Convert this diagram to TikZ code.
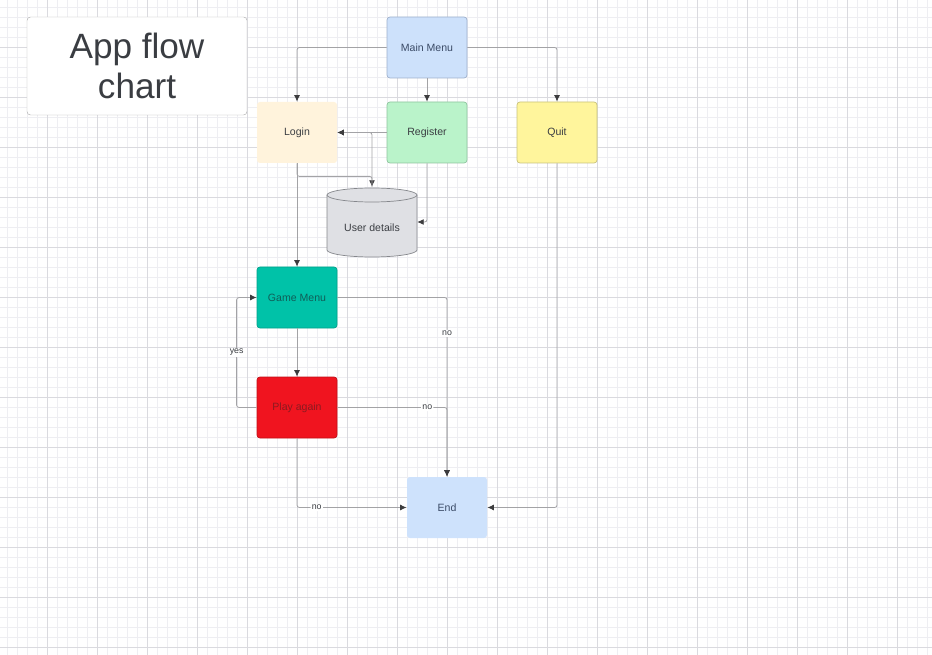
\documentclass[tikz,border=0pt]{standalone}
\usepackage{fontspec}
\setmainfont{Liberation Sans}
\usepackage{tikz}
\usetikzlibrary{arrows.meta}
\definecolor{gridminor}{HTML}{EEEEF2}
\definecolor{gridmajor}{HTML}{DADADF}
\definecolor{linegray}{HTML}{A3A3A6}
\definecolor{tipgray}{HTML}{3C3C3E}
\definecolor{textgray}{HTML}{3A3D42}
\definecolor{dbfill}{HTML}{DFE0E4}
\definecolor{dbline}{HTML}{85878C}
\definecolor{menufill}{HTML}{CDE1FB}
\definecolor{menuline}{HTML}{9DB0CC}
\definecolor{menutext}{HTML}{3A4A66}
\definecolor{loginfill}{HTML}{FFF3DC}
\definecolor{regfill}{HTML}{BAF3CA}
\definecolor{regline}{HTML}{8EC49D}
\definecolor{quitfill}{HTML}{FFF59C}
\definecolor{quitline}{HTML}{C9C27A}
\definecolor{gamefill}{HTML}{00C2A8}
\definecolor{gameline}{HTML}{00A08A}
\definecolor{gametext}{HTML}{105E58}
\definecolor{playfill}{HTML}{F0141F}
\definecolor{playline}{HTML}{C01018}
\definecolor{playtext}{HTML}{8A1A20}
\definecolor{endfill}{HTML}{CEE2FC}

\begin{document}
\begin{tikzpicture}[x=0.03cm,y=-0.03cm,
  box/.style={rectangle,rounded corners=2.5pt,minimum width=2.4cm,minimum height=1.83cm,inner sep=0pt,line width=0.6pt,text=textgray,font=\fontsize{9}{11}\selectfont},
  flow/.style={draw=linegray,line width=0.7pt,rounded corners=2pt,-{Latex[length=5.5pt,width=5pt,color=tipgray]}},
  lbl/.style={fill=white,inner sep=1pt,text=textgray,font=\fontsize{7.5}{9}\selectfont}]
  \useasboundingbox (0,0) rectangle (932,655);
  \foreach \x in {7.5,17.5,...,927.5}
    \draw[gridminor,line width=0.45pt] (\x,0) -- (\x,655);
  \foreach \y in {7.5,17.5,...,647.5}
    \draw[gridminor,line width=0.45pt] (0,\y) -- (932,\y);
  \foreach \x in {47.5,97.5,...,897.5}
    \draw[gridmajor,line width=0.65pt] (\x,0) -- (\x,655);
  \foreach \y in {47.5,97.5,...,647.5}
    \draw[gridmajor,line width=0.65pt] (0,\y) -- (932,\y);

  \node[draw=black!30,fill=white,rounded corners=3pt,minimum width=6.6cm,minimum height=2.94cm,align=center,text=textgray,font=\fontsize{30}{34}\selectfont] (title) at (137,66) {App flow\\chart};

  \node[box,fill=menufill,draw=menuline,text=menutext] (mainmenu) at (427,47.5) {Main Menu};
  \node[box,fill=loginfill] (login) at (297,132.5) {Login};
  \node[box,fill=regfill,draw=regline] (register) at (427,132.5) {Register};
  \node[box,fill=quitfill,draw=quitline] (quit) at (557,132.5) {Quit};
  \node[box,fill=gamefill,draw=gameline,text=gametext] (gamemenu) at (297,297.5) {Game Menu};
  \node[box,fill=playfill,draw=playline,text=playtext] (playagain) at (297,407.5) {Play again};
  \node[box,fill=endfill,text=menutext] (end) at (447,507.5) {End};

  \fill[dbfill] (327,195) rectangle (417,250);
  \fill[dbfill] (372,250) ellipse [x radius=45,y radius=7];
  \draw[dbline,line width=0.6pt] (327,195) -- (327,250) arc [start angle=180,end angle=0,x radius=45,y radius=7] -- (417,195);
  \draw[dbline,fill=dbfill,line width=0.6pt] (372,195) ellipse [x radius=45,y radius=7];
  \node[minimum width=2.7cm,minimum height=2.1cm,inner sep=0pt,label={[yshift=-5pt,text=textgray,font=\fontsize{9}{11}\selectfont]center:User details}] (userdb) at (372,222) {};

  \foreach \from/\to in {mainmenu/register,register/login,login/gamemenu,gamemenu/playagain}
    \draw[flow] (\from) -- (\to);
  \draw[flow] (mainmenu.west) -| (login.north);
  \draw[flow] (mainmenu.east) -| (quit.north);
  \draw[flow] (login.south) -- ++(0,13) -| (userdb.north);
  \draw[flow] (userdb.north) |- (login.east);
  \draw[flow] (register.south) |- (userdb.east);
  \draw[flow] (gamemenu.east) -| (end.north) node[lbl,pos=0.6] {no};
  \draw[flow] (playagain.east) -| (end.north) node[lbl,pos=0.41] {no};
  \draw[flow] (playagain.west) -- ++(-20,0) |- (gamemenu.west) node[lbl,pos=0.25] {yes};
  \draw[flow] (playagain.south) |- (end.west) node[lbl,pos=0.59] {no};
  \draw[flow] (quit.south) |- (end.east);
\end{tikzpicture}
\end{document}
